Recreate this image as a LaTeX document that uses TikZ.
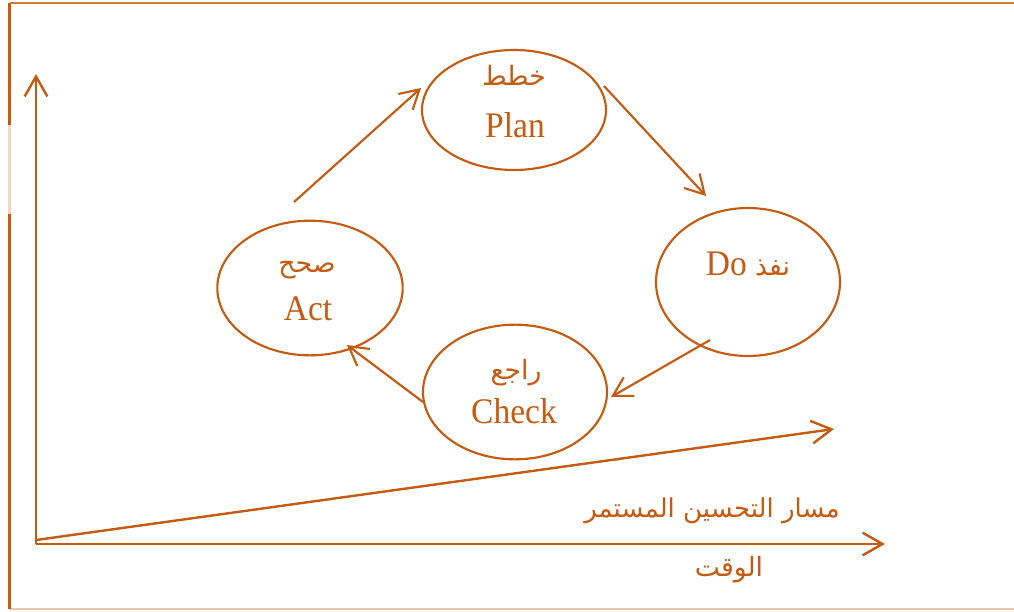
\documentclass[tikz,border=0pt]{standalone}
\usepackage{fontspec}
\setmainfont{Liberation Serif}
\newfontfamily\latinfont[FakeStretch=0.93]{Liberation Serif}
\newfontfamily\arabicfont[Script=Arabic]{DejaVu Sans}
\TeXXeTstate=1
\usetikzlibrary{shapes.geometric,arrows.meta}
\definecolor{org}{RGB}{197,90,17}
\begin{document}
\begin{tikzpicture}[x=0.75pt,y=-0.75pt,
  stage/.style={draw=org,ellipse,inner sep=0pt,line width=1.6pt},
  flow/.style={draw=org,line width=1.6pt,-{Straight Barb[length=14pt,width=16pt,line width=1.6pt]}},
  axis/.style={draw=org,line width=1.8pt,-{Straight Barb[length=15pt,width=17pt,line width=1.8pt]}},
  en/.style={text=org,font=\latinfont\fontsize{27}{31}\selectfont,inner sep=0pt,anchor=base},
  ar/.style={text=org,font=\arabicfont\fontsize{20}{24}\selectfont,inner sep=0pt},
  frame/.style={draw=org,line width=1.6pt}]
\useasboundingbox (0,0) rectangle (1014,611);
% frame
\draw[frame,opacity=0.8] (9.5,3) -- (1014,3);
\draw[frame] (9.5,3) -- (9.5,125);
\draw[frame,opacity=0.25] (9.5,125) -- (9.5,214);
\draw[frame] (9.5,214) -- (9.5,609);
\draw[frame,opacity=0.35] (9.5,609) -- (1014,609);
% ellipses
\node[stage,minimum width=138pt,minimum height=90pt] (plan) at (514,110) {};
\node[stage,minimum width=138pt,minimum height=111pt] (do) at (748,282) {};
\node[stage,minimum width=139pt,minimum height=101pt] (act) at (310,288) {};
\node[stage,minimum width=138pt,minimum height=101pt] (check) at (515,392) {};
% labels
\node[ar] (planar) at (514,75) {\beginR خطط\endR};
\node[en] (planen) at (515,137) {Plan};
\node[en] (doen) at (748,275) {Do \arabicfont\fontsize{20}{24}\selectfont\beginR نفذ\endR};
\node[ar] (actar) at (307,270) {\beginR صحح\endR};
\node[en] (acten) at (308,320) {Act};
\node[ar] (checkar) at (516,373) {\beginR راجع\endR};
\node[en] (checken) at (514,423) {Check};
% cycle arrows
\coordinate (a1) at (294,202);
\coordinate (a2) at (421,88);
\coordinate (b1) at (604,86);
\coordinate (b2) at (706,196);
\coordinate (c1) at (710,340);
\coordinate (c2) at (611,397);
\coordinate (d1) at (423,402);
\coordinate (d2) at (347,345);
\draw[flow] (a1) -- (a2);
\draw[flow] (b1) -- (b2);
\draw[flow] (c1) -- (c2);
\draw[flow] (d1) -- (d2);
% axes
\coordinate (o) at (36,544);
\coordinate (ytip) at (36,74);
\coordinate (xtip) at (885,544);
\coordinate (dstart) at (36,540);
\coordinate (dtip) at (834,429);
\draw[axis] (o) -- (ytip);
\draw[axis] (o) -- (xtip);
\draw[axis] (dstart) -- (dtip);
\node[ar,font=\arabicfont\fontsize{19.5}{24}\selectfont] (path) at (712,511) {\beginR مسار التحسين المستمر\endR};
\node[ar] (time) at (729,570) {\beginR الوقت\endR};
\end{tikzpicture}
\end{document}
